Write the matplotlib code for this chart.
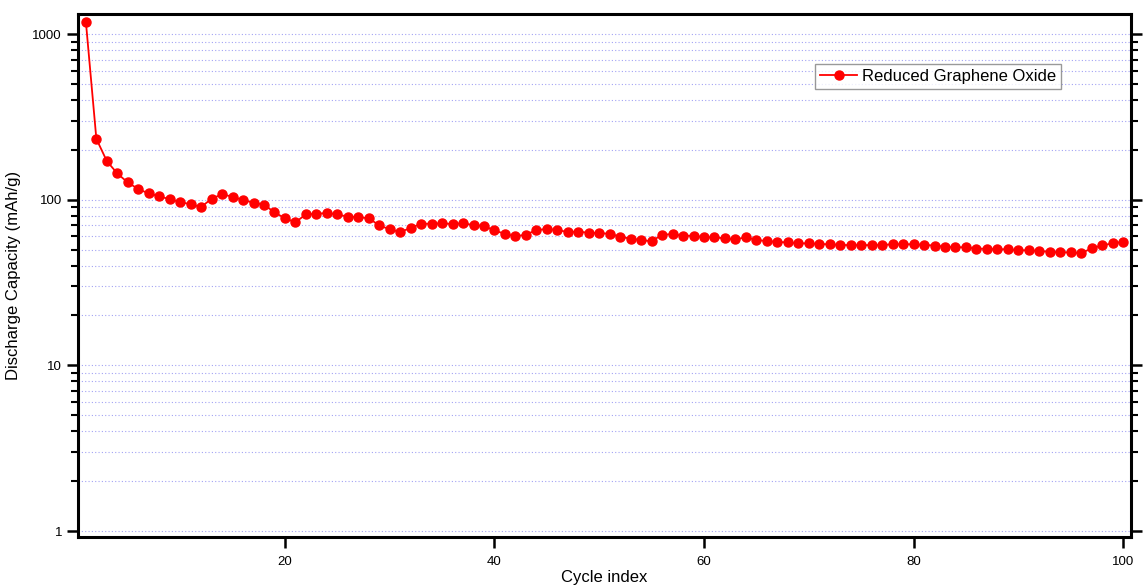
import numpy as np
import matplotlib.pyplot as plt
from matplotlib.ticker import LogLocator, FuncFormatter, NullFormatter, FixedLocator, NullLocator

# Discharge capacity per cycle (mAh/g)
cycles = np.arange(1, 101)
capacity = [
    1186, 233, 171, 144, 127, 116, 109, 105, 100.5, 96.8,
    93.8, 90.3, 101.4, 107.8, 104.2, 99.5, 95.9, 93.3, 83.9, 77.2,
    73.0, 81.6, 82.3, 83.0, 81.6, 78.9, 78.6, 77.2, 70.0, 66.2,
    63.8, 67.5, 71.6, 71.6, 72.0, 71.3, 72.0, 70.3, 69.3, 65.3,
    62.1, 60.1, 61.5, 65.6, 66.5, 65.6, 63.8, 64.1, 63.2, 62.8,
    62.3, 59.8, 58.1, 57.1, 56.1, 61.5, 61.9, 60.6, 60.6, 59.3,
    59.3, 58.4, 57.6, 59.3, 57.1, 56.3, 55.5, 55.3, 54.5, 54.5,
    54.0, 53.8, 53.3, 53.2, 53.2, 53.2, 53.3, 53.8, 53.8, 53.8,
    53.3, 52.9, 52.0, 51.6, 51.6, 50.6, 50.6, 50.2, 50.2, 49.5,
    49.5, 49.0, 48.5, 48.1, 48.1, 47.5, 50.9, 53.0, 54.5, 55.7,
]
series_label = 'Reduced Graphene Oxide'
x_ticks = [20, 40, 60, 80, 100]

plt.rcParams['font.family'] = ['Liberation Sans', 'DejaVu Sans']

fig = plt.figure(figsize=(11.44, 5.86), dpi=100)
ax = fig.add_axes([0.0682, 0.0836, 0.9204, 0.8924])

ax.plot(cycles, capacity, color='#ff0000', marker='o', markersize=6.5,
        linewidth=1.3, label=series_label, zorder=3)

ax.set_yscale('log')
ax.set_ylim(0.92, 1320)
ax.set_xlim(0.25, 100.75)

ax.yaxis.set_major_locator(LogLocator(base=10, numticks=10))
ax.yaxis.set_minor_locator(LogLocator(base=10, subs=np.arange(2, 10), numticks=20))
ax.yaxis.set_major_formatter(FuncFormatter(lambda v, p: f'{v:g}'))
ax.yaxis.set_minor_formatter(NullFormatter())
ax.xaxis.set_major_locator(FixedLocator(x_ticks))
ax.xaxis.set_minor_locator(NullLocator())

# dotted blue horizontal grid on every decade and sub-decade
ax.grid(True, which='both', axis='y', linestyle=(0, (1, 2)), color='#8c8cf0',
        linewidth=0.8, alpha=0.8)
ax.set_axisbelow(True)

for side in ['left', 'right', 'top', 'bottom']:
    ax.spines[side].set_linewidth(2.2)

ax.tick_params(axis='y', which='major', direction='out', length=8, width=1.8,
               labelsize=9.5, left=True, right=True)
ax.tick_params(axis='y', which='minor', direction='out', length=5, width=1.5,
               left=True, right=True)
ax.tick_params(axis='x', which='major', direction='out', length=8, width=1.8,
               labelsize=9.5, pad=6)

ax.set_xlabel('Cycle index', fontsize=12, labelpad=1)
ax.set_ylabel('Discharge Capacity (mAh/g)', fontsize=12, labelpad=8)

leg = ax.legend(loc='center', bbox_to_anchor=(0.817, 0.880), fontsize=12,
                frameon=True, fancybox=False, edgecolor='#808080',
                handlelength=2.2, borderpad=0.3, handletextpad=0.3)
leg.get_frame().set_linewidth(1.0)

fig.savefig('out.png', dpi=100)
